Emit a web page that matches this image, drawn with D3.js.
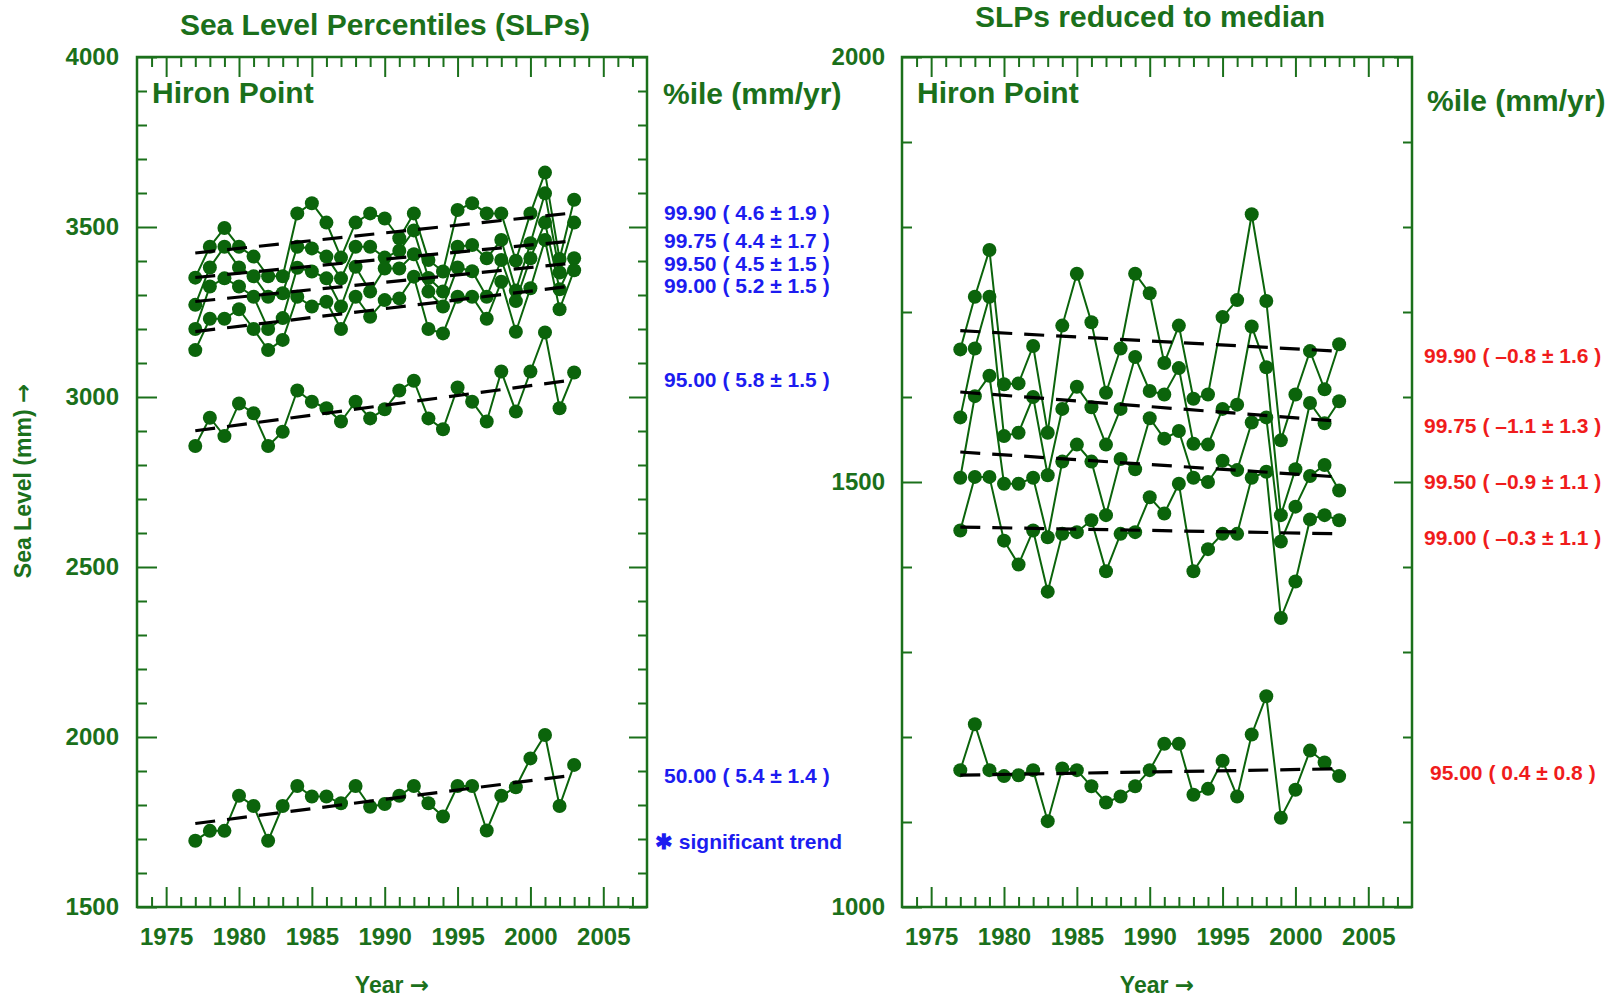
<!DOCTYPE html>
<html lang='en'>
<head>
  <meta charset='UTF-8'>
  <title>Hiron Point sea level percentiles</title>
  <script src='https://d3js.org/d3.v7.min.js'></script>
  <style>
    body { margin: 0; background: #fff; }
    svg text { font-family: 'Liberation Sans', Arial, sans-serif; font-weight: bold; }
    svg tspan.arrow { font-family: 'DejaVu Sans', sans-serif; }
  </style>
</head>
<body>
<div id='main'></div>
<script>
  // years of the annual percentiles
  const years = [1977, 1978, 1979, 1980, 1981, 1982, 1983, 1984, 1985, 1986, 1987, 1988, 1989, 1990,
    1991, 1992, 1993, 1994, 1995, 1996, 1997, 1998, 1999, 2000, 2001, 2002, 2003]

  // left panel: sea level percentiles (mm)
  const slp9990 = [3351, 3442, 3497, 3442, 3413, 3355, 3355, 3540, 3570, 3513, 3410, 3513, 3540, 3525,
    3467, 3540, 3403, 3369, 3550, 3570, 3540, 3540, 3401, 3540, 3660, 3406, 3580]
  const slp9975 = [3271, 3381, 3442, 3381, 3355, 3295, 3305, 3442, 3437, 3413, 3349, 3442, 3442, 3410,
    3430, 3490, 3350, 3310, 3442, 3447, 3408, 3462, 3313, 3452, 3599, 3366, 3513]
  const slp9950 = [3200, 3325, 3349, 3325, 3295, 3200, 3232, 3380, 3369, 3349, 3266, 3383, 3310, 3378,
    3378, 3420, 3310, 3266, 3381, 3370, 3295, 3403, 3282, 3408, 3513, 3317, 3408]
  const slp9900 = [3138, 3230, 3230, 3258, 3200, 3138, 3168, 3295, 3266, 3280, 3200, 3295, 3236, 3285,
    3290, 3354, 3200, 3187, 3295, 3295, 3230, 3339, 3192, 3320, 3462, 3258, 3373]
  const slp9500 = [2856, 2939, 2885, 2981, 2952, 2856, 2898, 3019, 2986, 2967, 2928, 2986, 2937, 2964,
    3019, 3048, 2937, 2905, 3028, 2986, 2928, 3075, 2957, 3075, 3190, 2967, 3072]
  const slp5000 = [1695, 1724, 1724, 1827, 1797, 1695, 1797, 1856, 1825, 1825, 1805, 1856, 1795, 1803,
    1827, 1856, 1805, 1766, 1856, 1856, 1725, 1827, 1852, 1937, 2006, 1797, 1918]

  // right panel: percentiles reduced to median (mm)
  const red9990 = [1656, 1718, 1773, 1615, 1616, 1660, 1558, 1684, 1745, 1688, 1605, 1657, 1745, 1722,
    1640, 1684, 1598, 1603, 1694, 1714, 1815, 1713, 1549, 1603, 1654, 1609, 1662]
  const red9975 = [1576, 1657, 1718, 1554, 1558, 1600, 1508, 1586, 1612, 1588, 1544, 1586, 1647, 1607,
    1603, 1634, 1545, 1544, 1586, 1591, 1683, 1635, 1461, 1515, 1593, 1569, 1595]
  const red9950 = [1505, 1601, 1625, 1498, 1498, 1505, 1435, 1524, 1544, 1524, 1461, 1527, 1515, 1575,
    1551, 1560, 1505, 1500, 1525, 1514, 1570, 1576, 1430, 1471, 1507, 1520, 1490]
  const red9900 = [1443, 1506, 1506, 1431, 1403, 1443, 1371, 1439, 1441, 1455, 1395, 1439, 1441, 1482,
    1463, 1498, 1395, 1421, 1439, 1439, 1505, 1512, 1340, 1383, 1456, 1461, 1455]
  const red9500 = [1161, 1215, 1161, 1154, 1155, 1161, 1101, 1163, 1161, 1142, 1123, 1130, 1142, 1161,
    1192, 1192, 1132, 1139, 1172, 1130, 1203, 1248, 1105, 1138, 1184, 1170, 1154]

  // trend labels
  const leftLabels = ['99.90 ( 4.6 ± 1.9 )', '99.75 ( 4.4 ± 1.7 )', '99.50 ( 4.5 ± 1.5 )',
    '99.00 ( 5.2 ± 1.5 )', '95.00 ( 5.8 ± 1.5 )', '50.00 ( 5.4 ± 1.4 )']
  const rightLabels = ['99.90 ( –0.8 ± 1.6 )', '99.75 ( –1.1 ± 1.3 )', '99.50 ( –0.9 ± 1.1 )',
    '99.00 ( –0.3 ± 1.1 )', '95.00 ( 0.4 ± 0.8 )']

  const green = '#1b701b'
  const dotGreen = '#0b640b'
  const width = 1606
  const height = 1000
  const plotT = 57
  const plotB = 907
  const plotW = 510

  const svg = d3.select('#main').append('svg')
    .attr('width', width)
    .attr('height', height)

  // least squares line
  function fit (xs, ys) {
    const mx = d3.mean(xs)
    const my = d3.mean(ys)
    let sxy = 0
    let sxx = 0
    xs.forEach((x, i) => {
      sxy += (x - mx) * (ys[i] - my)
      sxx += (x - mx) * (x - mx)
    })
    const b = sxy / sxx
    return x => my + b * (x - mx)
  }

  function styleAxis (sel, fontSize) {
    sel.select('.domain').remove()
    sel.selectAll('.tick line').attr('stroke', green).attr('stroke-width', 2)
    sel.selectAll('.tick text')
      .attr('fill', green)
      .style('font-size', fontSize + 'px')
  }

  // text with a bold arrow at the end
  function arrowText (sel, label) {
    sel.append('tspan').text(label + ' ')
    sel.append('tspan').attr('class', 'arrow').text('→')
  }

  function drawPanel (cfg) {
    const g = svg.append('g')
    const x = d3.scaleLinear().domain([1973, 2008]).range([cfg.left, cfg.left + plotW])
    const y = d3.scaleLinear().domain(cfg.yDomain).range([plotB, plotT])

    const majorX = d3.range(1975, 2006, 5)
    const minorX = d3.range(1974, 2008).filter(d => d % 5 !== 0)
    const majorY = d3.range(cfg.yDomain[0], cfg.yDomain[1] + 1, 500)
    const minorY = d3.range(cfg.yDomain[0], cfg.yDomain[1], 100).filter(d => d % 500 !== 0)

    // bottom
    g.append('g').attr('transform', `translate(0,${plotB})`)
      .call(d3.axisBottom(x).tickValues(minorX).tickSize(-10).tickFormat(''))
      .call(styleAxis, 24)
    g.append('g').attr('transform', `translate(0,${plotB})`)
      .call(d3.axisBottom(x).tickValues(majorX).tickSize(-20).tickPadding(21).tickFormat(d3.format('d')))
      .call(styleAxis, 24)
    // top
    g.append('g').attr('transform', `translate(0,${plotT})`)
      .call(d3.axisTop(x).tickValues(minorX).tickSize(-10).tickFormat(''))
      .call(styleAxis, 24)
    g.append('g').attr('transform', `translate(0,${plotT})`)
      .call(d3.axisTop(x).tickValues(majorX).tickSize(-20).tickFormat(''))
      .call(styleAxis, 24)
    // left
    g.append('g').attr('transform', `translate(${cfg.left},0)`)
      .call(d3.axisLeft(y).tickValues(minorY).tickSize(-10).tickFormat(''))
      .call(styleAxis, 24)
    g.append('g').attr('transform', `translate(${cfg.left},0)`)
      .call(d3.axisLeft(y).tickValues(majorY).tickSize(-20).tickPadding(cfg.yPad).tickFormat(d3.format('d')))
      .call(styleAxis, 24)
    // right
    g.append('g').attr('transform', `translate(${cfg.left + plotW},0)`)
      .call(d3.axisRight(y).tickValues(minorY).tickSize(-9).tickFormat(''))
      .call(styleAxis, 24)
    g.append('g').attr('transform', `translate(${cfg.left + plotW},0)`)
      .call(d3.axisRight(y).tickValues(majorY).tickSize(-18).tickFormat(''))
      .call(styleAxis, 24)

    // frame
    g.append('rect')
      .attr('x', cfg.left).attr('y', plotT)
      .attr('width', plotW).attr('height', plotB - plotT)
      .attr('fill', 'none').attr('stroke', green).attr('stroke-width', 2.5)

    // series lines and dots
    const line = d3.line().x((d, i) => x(years[i])).y(d => y(d))
    cfg.series.forEach(s => {
      g.append('path').datum(s)
        .attr('d', line)
        .attr('fill', 'none').attr('stroke', dotGreen).attr('stroke-width', 2)
    })
    cfg.series.forEach(s => {
      g.append('g').selectAll('circle').data(s).join('circle')
        .attr('cx', (d, i) => x(years[i]))
        .attr('cy', d => y(d))
        .attr('r', 7)
        .attr('fill', dotGreen)
    })

    // trend lines and labels
    const y0 = years[0]
    const y1 = years[years.length - 1]
    cfg.series.forEach((s, k) => {
      const f = fit(years, s)
      g.append('line')
        .attr('x1', x(y0)).attr('y1', y(f(y0)))
        .attr('x2', x(y1)).attr('y2', y(f(y1)))
        .attr('stroke', '#000').attr('stroke-width', 3.2)
        .attr('stroke-dasharray', '20,12')
      g.append('text')
        .attr('x', cfg.labelX[k])
        .attr('y', y(f(y1)))
        .attr('dy', cfg.labelDy)
        .attr('fill', cfg.labelColor)
        .style('font-size', '21px')
        .text(cfg.labels[k])
    })

    // texts
    g.append('text')
      .attr('x', cfg.left + 15).attr('y', 103)
      .attr('fill', green).style('font-size', '30px')
      .text('Hiron Point')
    g.append('text')
      .attr('x', cfg.pctX).attr('y', cfg.pctY)
      .attr('fill', green).style('font-size', '30px')
      .text('%ile (mm/yr)')
    g.append('text')
      .attr('x', cfg.titleX).attr('y', cfg.titleY)
      .attr('text-anchor', 'middle')
      .attr('fill', green).style('font-size', '30px')
      .text(cfg.title)
    g.append('text')
      .attr('x', cfg.left + plotW / 2).attr('y', 993)
      .attr('text-anchor', 'middle')
      .attr('fill', green).style('font-size', '23px')
      .call(arrowText, 'Year')
  }

  drawPanel({
    left: 137,
    yDomain: [1500, 4000],
    yPad: 18,
    series: [slp9990, slp9975, slp9950, slp9900, slp9500, slp5000],
    labels: leftLabels,
    labelX: [664, 664, 664, 664, 664, 664],
    labelDy: '0.36em',
    labelColor: '#1c1cf0',
    pctX: 663,
    pctY: 104,
    title: 'Sea Level Percentiles (SLPs)',
    titleX: 385,
    titleY: 35
  })

  drawPanel({
    left: 902,
    yDomain: [1000, 2000],
    yPad: 17,
    series: [red9990, red9975, red9950, red9900, red9500],
    labels: rightLabels,
    labelX: [1424, 1424, 1424, 1424, 1430],
    labelDy: '0.55em',
    labelColor: '#f01c1c',
    pctX: 1427,
    pctY: 111,
    title: 'SLPs reduced to median',
    titleX: 1150,
    titleY: 27
  })

  svg.append('text')
    .attr('x', 655).attr('y', 849)
    .attr('fill', '#1c1cf0').style('font-size', '21px')
    .text('✱ significant trend')

  svg.append('text')
    .attr('transform', 'translate(31,481) rotate(-90)')
    .attr('text-anchor', 'middle')
    .attr('fill', green).style('font-size', '23px')
    .call(arrowText, 'Sea Level (mm)')
</script>
</body>
</html>
